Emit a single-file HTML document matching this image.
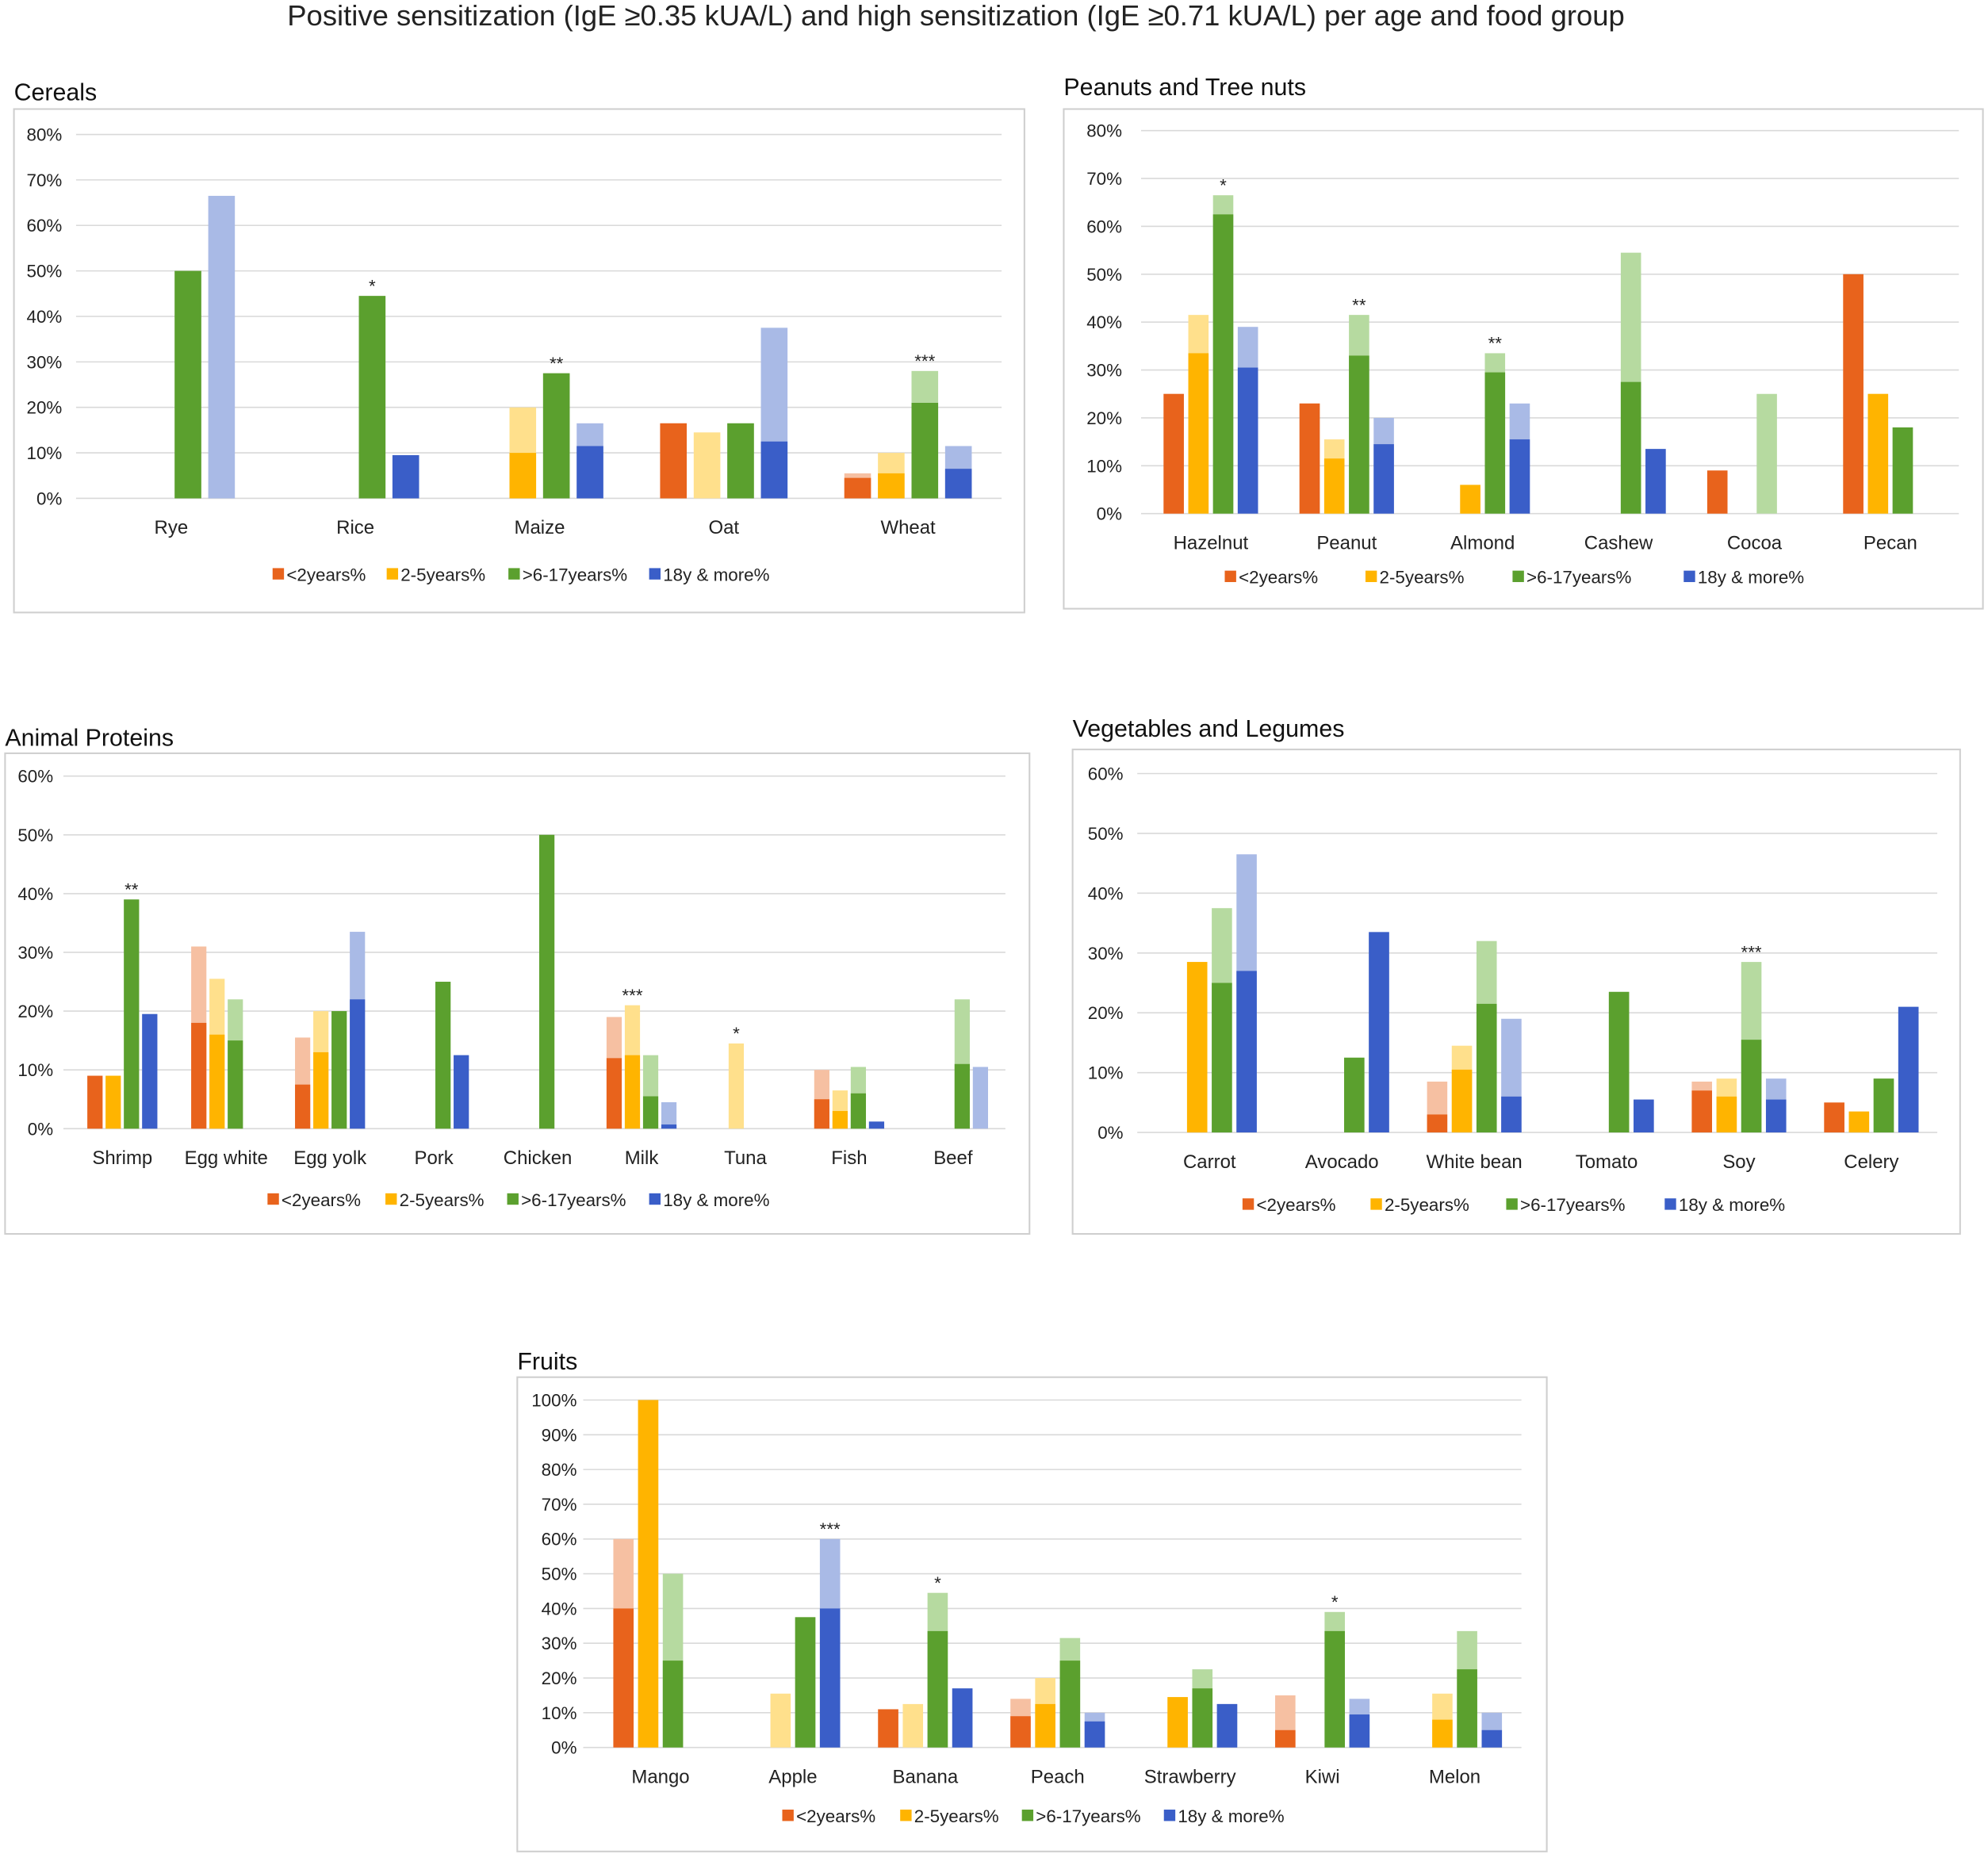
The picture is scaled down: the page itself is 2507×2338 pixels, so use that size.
<!DOCTYPE html>
<html><head><meta charset="utf-8">
<style>
html,body{margin:0;padding:0;background:#fff;}
svg{display:block;}
text{font-family:"Liberation Sans",sans-serif;}
</style></head>
<body>
<svg id="root" width="2507" height="2338" viewBox="0 0 1568 1462" preserveAspectRatio="none" xmlns="http://www.w3.org/2000/svg">
<rect width="1568" height="1462" fill="#fff"/>
<text x="754" y="20" text-anchor="middle" font-size="22.8" fill="#222">Positive sensitization (IgE ≥0.35 kUA/L) and high sensitization (IgE ≥0.71 kUA/L) per age and food group</text>
</svg>
<script>
// ===== Data =====
const seriesNames = ['<2years%', '2-5years%', '>6-17years%', '18y & more%'];

const cerealCats = ['Rye','Rice','Maize','Oat','Wheat'];
const cerealTicks = [0,10,20,30,40,50,60,70,80];
const cerealHigh = [[0,0,0,16.5,4.5],[0,0,10,0,5.5],[50,44.5,27.5,16.5,21],[0,9.5,11.5,12.5,6.5]];
const cerealPos  = [[0,0,0,16.5,5.5],[0,0,20,14.5,10],[50,44.5,27.5,16.5,28],[66.5,9.5,16.5,37.5,11.5]];
const cerealStars = ['','*','**','','***'];
const cerealStarSeries = [2,2,2,2,2];

const nutCats = ['Hazelnut','Peanut','Almond','Cashew','Cocoa','Pecan'];
const nutTicks = [0,10,20,30,40,50,60,70,80];
const nutHigh = [[25,23,0,0,9,50],[33.5,11.5,6,0,0,25],[62.5,33,29.5,27.5,0,18],[30.5,14.5,15.5,13.5,0,0]];
const nutPos  = [[25,23,0,0,9,50],[41.5,15.5,6,0,0,25],[66.5,41.5,33.5,54.5,25,18],[39,20,23,13.5,0,0]];
const nutStars = ['*','**','**','','',''];
const nutStarSeries = [2,2,2,2,2,2];

const animalCats = ['Shrimp','Egg white','Egg yolk','Pork','Chicken','Milk','Tuna','Fish','Beef'];
const animalTicks = [0,10,20,30,40,50,60];
const animalHigh = [[9,18,7.5,0,0,12,0,5,0],[9,16,13,0,0,12.5,0,3,0],[39,15,20,25,50,5.5,0,6,11],[19.5,0,22,12.5,0,0.7,0,1.2,0]];
const animalPos  = [[9,31,15.5,0,0,19,0,10,0],[9,25.5,20,0,0,21,14.5,6.5,0],[39,22,20,25,50,12.5,0,10.5,22],[19.5,0,33.5,12.5,0,4.5,0,1.2,10.5]];
const animalStars = ['**','','','','','***','*','',''];
const animalStarSeries = [2,2,2,2,2,1,1,2,2];

const vegCats = ['Carrot','Avocado','White bean','Tomato','Soy','Celery'];
const vegTicks = [0,10,20,30,40,50,60];
const vegHigh = [[0,0,3,0,7,5],[28.5,0,10.5,0,6,3.5],[25,12.5,21.5,23.5,15.5,9],[27,33.5,6,5.5,5.5,21]];
const vegPos  = [[0,0,8.5,0,8.5,5],[28.5,0,14.5,0,9,3.5],[37.5,12.5,32,23.5,28.5,9],[46.5,33.5,19,5.5,9,21]];
const vegStars = ['','','','','***',''];
const vegStarSeries = [2,2,2,2,2,2];

const fruitCats = ['Mango','Apple','Banana','Peach','Strawberry','Kiwi','Melon'];
const fruitTicks = [0,10,20,30,40,50,60,70,80,90,100];
const fruitHigh = [[40,0,11,9,0,5,0],[100,0,0,12.5,14.5,0,8],[25,37.5,33.5,25,17,33.5,22.5],[0,40,17,7.5,12.5,9.5,5]];
const fruitPos  = [[60,0,11,14,0,15,0],[100,15.5,12.5,20,14.5,0,15.5],[50,37.5,44.5,31.5,22.5,39,33.5],[0,60,17,10,12.5,14,10]];
const fruitStars = ['','***','*','','','*',''];
const fruitStarSeries = [2,3,2,2,2,2,2];

// ===== Rendering =====
const darkC = ['#E8631C','#FFB400','#5BA02E','#3A5EC8'];
const lightC = ['#F6C0A2','#FFE08C','#B6DAA0','#A9BAE6'];
const NS = 'http://www.w3.org/2000/svg';
const root = document.getElementById('root');
function mk(tag, attrs, parent){const e=document.createElementNS(NS,tag);for(const k in attrs)e.setAttribute(k,attrs[k]);(parent||root).appendChild(e);return e;}

function chart(c){
  const g = mk('g',{});
  
  
  const box = mk('rect',{x:c.px,y:c.py,width:c.pw,height:c.ph,fill:'#fff',stroke:'#cfcfcf','stroke-width':1.3},g);
  
  
  const t = mk('text',{x:c.tx,y:c.ty,'font-size':19,fill:'#111'},g);
  t.textContent = c.title;
  
  
  const maxV = c.ticks[c.ticks.length-1];
  const yS = v => c.y0 - (c.y0 - c.yTop) * v / maxV;
  c.ticks.forEach(v=>{
    const ln = mk('line',{x1:c.gx0,x2:c.gx1,y1:yS(v),y2:yS(v),stroke:'#d9d9d9','stroke-width':1},g);
    
    
    const tl = mk('text',{x:c.lx,y:yS(v)+5,'font-size':14,fill:'#222','text-anchor':'end'},g);
    tl.textContent = v+'%';
    
    
  });
  const xS = i => c.cx0 + i*c.dx;
  c.cats.forEach((cat,i)=>{
    const cx = xS(i);
    for(let s=0;s<4;s++){
      const bx = cx + (s-1.5)*c.step - c.bw/2;
      const p = c.pos[s][i], h = c.high[s][i];
      if(p>0){
        const r = mk('rect',{x:bx,y:yS(p),width:c.bw,height:yS(0)-yS(p),fill:lightC[s]},g);
        
        
      }
      if(h>0){
        const r = mk('rect',{x:bx,y:yS(h),width:c.bw,height:yS(0)-yS(h),fill:darkC[s]},g);
        
        
      }
    }
    if(c.stars[i]){
      const s = c.starS[i];
      const st = mk('text',{x:cx+(s-1.5)*c.step,y:yS(Math.max(c.pos[s][i],c.high[s][i]))-3,'font-size':14,fill:'#222','text-anchor':'middle'},g);
      st.textContent = c.stars[i];
      
      
    }
    const cl = mk('text',{x:cx,y:c.y0+28,'font-size':15,fill:'#222','text-anchor':'middle'},g);
    cl.textContent = cat;
    
    
  });
  c.legX.forEach((lx,s)=>{
    const sw = mk('rect',{x:lx,y:c.legY-5,width:9,height:9,fill:darkC[s]},g);
    
    
    const lt = mk('text',{x:lx+11,y:c.legY+5,'font-size':14,fill:'#222'},g);
    lt.textContent = seriesNames[s];
    
    
  });
}

chart({id:'cereals',title:'Cereals',px:11,py:86,pw:797,ph:397,tx:11,ty:79,y0:393,yTop:106,gx0:60,gx1:790,lx:49,cx0:135,dx:145.3,bw:21,step:26.5,
  cats:cerealCats,ticks:cerealTicks,high:cerealHigh,pos:cerealPos,stars:cerealStars,starS:cerealStarSeries,legY:453,legX:[215,305,401,512]});
chart({id:'nuts',title:'Peanuts and Tree nuts',px:839,py:86,pw:725,ph:394,tx:839,ty:75,y0:405,yTop:103,gx0:900,gx1:1545,lx:885,cx0:955,dx:107.2,bw:16,step:19.5,
  cats:nutCats,ticks:nutTicks,high:nutHigh,pos:nutPos,stars:nutStars,starS:nutStarSeries,legY:455,legX:[966,1077,1193,1328]});
chart({id:'animal',title:'Animal Proteins',px:4,py:594,pw:808,ph:379,tx:4,ty:588,y0:890,yTop:612,gx0:50,gx1:793,lx:42,cx0:96.5,dx:81.9,bw:12,step:14.4,
  cats:animalCats,ticks:animalTicks,high:animalHigh,pos:animalPos,stars:animalStars,starS:animalStarSeries,legY:946,legX:[211,304,400,512]});
chart({id:'veg',title:'Vegetables and Legumes',px:846,py:591,pw:700,ph:382,tx:846,ty:581,y0:893,yTop:610,gx0:897,gx1:1528,lx:886,cx0:954,dx:104.4,bw:16,step:19.5,
  cats:vegCats,ticks:vegTicks,high:vegHigh,pos:vegPos,stars:vegStars,starS:vegStarSeries,legY:950,legX:[980,1081,1188,1313]});
chart({id:'fruits',title:'Fruits',px:408,py:1086,pw:812,ph:374,tx:408,ty:1080,y0:1378,yTop:1104,gx0:460,gx1:1200,lx:455,cx0:521,dx:104.4,bw:16,step:19.5,
  cats:fruitCats,ticks:fruitTicks,high:fruitHigh,pos:fruitPos,stars:fruitStars,starS:fruitStarSeries,legY:1432,legX:[617,710,806,918]});
</script>
</body></html>
